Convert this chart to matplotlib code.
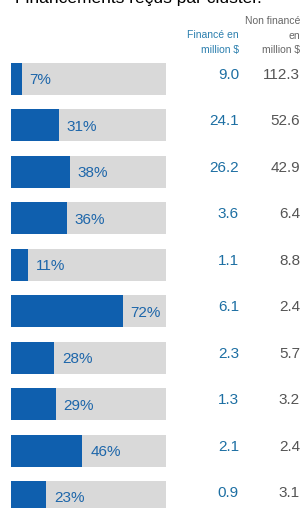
import matplotlib
matplotlib.use('Agg')
import matplotlib.pyplot as plt

plt.rcParams['font.family'] = ['Liberation Sans', 'DejaVu Sans']

# data
pct = [7, 31, 38, 36, 11, 72, 28, 29, 46, 23]
finance = [9.0, 24.1, 26.2, 3.6, 1.1, 6.1, 2.3, 1.3, 2.1, 0.9]
non_finance = [112.3, 52.6, 42.9, 6.4, 8.8, 2.4, 5.7, 3.2, 2.4, 3.1]

W, H = 303, 508
fig = plt.figure(figsize=(W / 100, H / 100), dpi=100)

# bar area spans x pixels 10.7..166, rows every 46.45 px starting at 79
x0, x1 = 10.7, 166.0
row0, step = 79.0, 46.45
ax = fig.add_axes([x0 / W, 0, (x1 - x0) / W, 1])
ax.set_xlim(0, 100)
ax.set_ylim((H - row0) / step, -row0 / step)
ax.axis('off')

def px2x(px):
    return (px - x0) / (x1 - x0) * 100

rows = range(len(pct))
ax.barh(rows, [100] * len(pct), height=0.69, color='#d9d9d9', clip_on=False)
ax.barh(rows, pct, height=0.69, color='#0f5fae', clip_on=False)

off = 8 / (x1 - x0) * 100
dy = -4 / step
for i, p in enumerate(pct):
    ax.text(p + off, i + 0.03, f'{p}%', color='#1d66aa', fontsize=11,
            va='center', ha='left')
    ax.text(px2x(239), i + dy, f'{finance[i]:.1f}', color='#1d6fa3',
            fontsize=11, va='center', ha='right', clip_on=False)
    ax.text(px2x(300), i + dy, f'{non_finance[i]:.1f}', color='#555555',
            fontsize=11, va='center', ha='right', clip_on=False)

# column headers
fig.text(239 / W, 1 - 35 / H, 'Financé en', color='#2b7fae', fontsize=7.5,
         ha='right', va='center')
fig.text(239 / W, 1 - 50 / H, 'million $', color='#2b7fae', fontsize=7.5,
         ha='right', va='center')
fig.text(300 / W, 1 - 21 / H, 'Non financé', color='#666666', fontsize=7.5,
         ha='right', va='center')
fig.text(300 / W, 1 - 36 / H, 'en', color='#666666', fontsize=7.5,
         ha='right', va='center')
fig.text(300 / W, 1 - 50 / H, 'million $', color='#666666', fontsize=7.5,
         ha='right', va='center')

# title, mostly cut off at the top edge
fig.text(15 / W, 1 - 3 / H, 'Financements reçus par cluster.', color='black',
         fontsize=12.5, ha='left', va='baseline')

fig.savefig('out.png', dpi=100)
